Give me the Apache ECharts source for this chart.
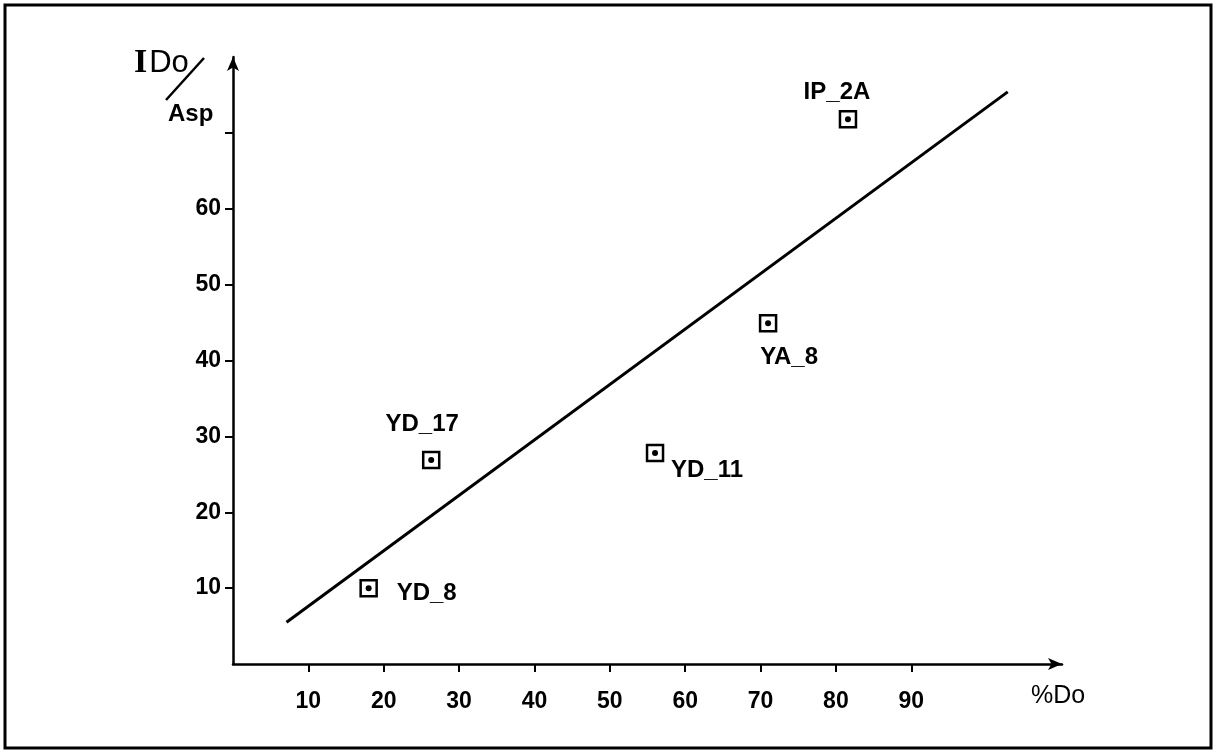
<!DOCTYPE html>
<html>
<head>
<meta charset="utf-8">
<script src="https://cdn.jsdelivr.net/npm/echarts@6/dist/echarts.min.js"></script>
<style>
html,body{margin:0;padding:0;background:#fff;}
#chart{width:1225px;height:752px;}
</style>
</head>
<body>
<div id="chart"></div>
<script>
// ---- data ----
var sampleNames = ['YD_8', 'YD_17', 'YD_11', 'YA_8', 'IP_2A'];
var sampleX = [18.0, 26.3, 56.0, 71.0, 81.6];
var sampleY = [10.0, 26.9, 27.8, 44.9, 71.8];
var fitX = [7.1, 102.8];
var fitY = [5.5, 75.4];
var xTickValues = [10, 20, 30, 40, 50, 60, 70, 80, 90];
var yTickValues = [10, 20, 30, 40, 50, 60, 70];
var yLabelValues = [10, 20, 30, 40, 50, 60];
var xAxisTitle = '%Do';
var yAxisTitleTop = ['I', 'Do'];
var yAxisTitleBottom = 'Asp';

// ---- styling ----
var FONT = '"Liberation Sans", Arial, sans-serif';
var SERIF = '"Liberation Serif", "DejaVu Serif", serif';
var labelOffsets = {
  'YD_8':  [58, 5],
  'YD_17': [-9, -36],
  'YD_11': [52, 17],
  'YA_8':  [21, 34],
  'IP_2A': [-11, -27]
};

var points = sampleNames.map(function (n, i) { return [sampleX[i], sampleY[i]]; });
var dotData = sampleNames.map(function (n, i) {
  return {
    name: n,
    value: [sampleX[i], sampleY[i]],
    label: { show: true, position: 'inside', offset: labelOffsets[n], formatter: n,
      color: '#000', textBorderWidth: 0, textBorderColor: 'transparent',
      fontSize: 24, fontWeight: 'bold', fontFamily: FONT }
  };
});
var fitData = fitX.map(function (x, i) { return [x, fitY[i]]; });

var chart = echarts.init(document.getElementById('chart'), null, { renderer: 'canvas' });
chart.setOption({
  backgroundColor: '#ffffff',
  animation: false,
  grid: { left: 233, right: 163, top: 57, bottom: 88, containLabel: false },
  xAxis: {
    type: 'value', min: 0, max: 110, interval: 10,
    splitLine: { show: false },
    axisLine: { onZero: false, lineStyle: { color: '#000', width: 2.5 },
      symbol: ['none', 'arrow'], symbolSize: [9, 14], symbolOffset: [0, 0] },
    axisTick: { show: true, inside: false, length: 8, lineStyle: { color: '#000', width: 2 },
      customValues: xTickValues },
    axisLabel: { show: true, margin: 26, color: '#000', fontSize: 23, fontWeight: 'bold',
      fontFamily: FONT, customValues: xTickValues }
  },
  yAxis: {
    type: 'value', min: 0, max: 80, interval: 10,
    splitLine: { show: false },
    axisLine: { onZero: false, lineStyle: { color: '#000', width: 2.5 },
      symbol: ['none', 'arrow'], symbolSize: [9, 14], symbolOffset: [0, 0] },
    axisTick: { show: true, inside: false, length: 8, lineStyle: { color: '#000', width: 2 },
      customValues: yTickValues },
    axisLabel: { show: true, margin: 12, color: '#000', fontSize: 23, fontWeight: 'bold',
      fontFamily: FONT, customValues: yLabelValues }
  },
  series: [
    {
      type: 'line', data: fitData, symbol: 'none', silent: true,
      lineStyle: { color: '#000', width: 3 }, z: 2
    },
    {
      type: 'scatter', data: points, symbol: 'rect', symbolSize: 16, silent: true,
      itemStyle: { color: '#fff', borderColor: '#000', borderWidth: 2.5, opacity: 1 }, z: 3
    },
    {
      type: 'scatter', data: dotData, symbol: 'circle', symbolSize: 6, silent: true,
      itemStyle: { color: '#000', opacity: 1 }, z: 4,
      label: { color: '#000', align: 'center', verticalAlign: 'middle' }
    }
  ],
  graphic: [
    { type: 'rect', shape: { x: 5, y: 5, width: 1206, height: 743 },
      style: { fill: 'none', stroke: '#000', lineWidth: 3 }, z: 10 },
    { type: 'text', left: 1031, top: 684,
      style: { text: xAxisTitle, fill: '#000', font: '25px ' + FONT } },
    { type: 'text', left: 134, top: 46,
      style: {
        text: '{a|' + yAxisTitleTop[0] + '}{b|' + yAxisTitleTop[1] + '}',
        rich: {
          a: { fontFamily: SERIF, fontSize: 34, fontWeight: 'bold', fill: '#000', padding: [0, 2, 0, 0] },
          b: { fontFamily: FONT, fontSize: 31, fill: '#000' }
        }
      } },
    { type: 'line', shape: { x1: 166, y1: 100, x2: 204, y2: 58 },
      style: { stroke: '#000', lineWidth: 2.5 } },
    { type: 'text', left: 168, top: 102,
      style: { text: yAxisTitleBottom, fill: '#000', font: 'bold 24px ' + FONT } }
  ]
});
</script>
</body>
</html>
